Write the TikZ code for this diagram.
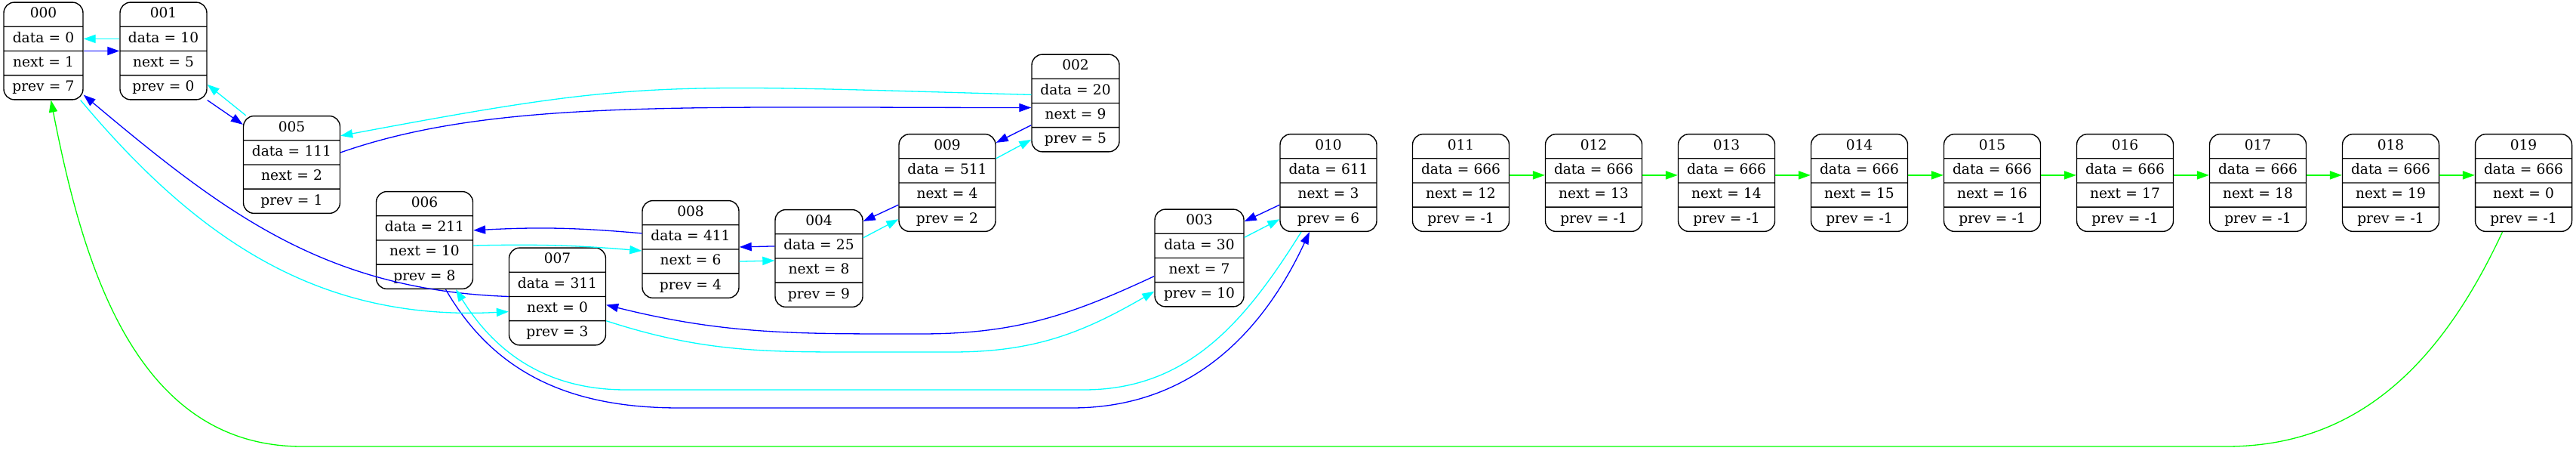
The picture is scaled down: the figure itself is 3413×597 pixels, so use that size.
\documentclass[tikz,border=0pt]{standalone}
\usepackage{fontspec}
\setmainfont{DejaVu Serif}
\usetikzlibrary{arrows.meta, shapes.multipart}
\definecolor{nextblue}{RGB}{0,0,255}
\definecolor{prevcyan}{RGB}{0,255,255}
\definecolor{freegreen}{RGB}{0,255,0}
\tikzset{%
  >={Triangle[width=5.6pt,length=8pt]},
  % Specifications for style of nodes:
            cell/.style = {rectangle split, rectangle split parts=4,
                           draw=black, line width=0.7pt, rounded corners=7pt,
                           text width=64pt, align=center, inner xsep=0pt,
                           inner ysep=1.7pt,
                           font=\fontsize{9.3}{12}\selectfont\strut},
         midcell/.style = {cell, text width=58pt},
  % Specifications for style of links:
            link/.style = {->, line width=0.65pt},
        nextlink/.style = {link, nextblue},
        prevlink/.style = {link, prevcyan},
        freelink/.style = {link, freegreen},
}

\begin{document}
\begin{tikzpicture}[node distance=88pt, x=0.5pt, y=0.5pt]
  \useasboundingbox (0,0) rectangle (3413,-597);
  % Specification of nodes (position, etc.)
  \node (elem0)  [cell, text width=52.5pt] at (57.5,-67.5)
        {000\nodepart{two}data = 0\nodepart{three}next = 1\nodepart{four}prev = 7};
  \node (elem1)  [cell, text width=57.5pt] at (216.5,-67.5)
        {001\nodepart{two}data = 10\nodepart{three}next = 5\nodepart{four}prev = 0};
  \node (elem5)  [cell] at (386.5,-218)
        {005\nodepart{two}data = 111\nodepart{three}next = 2\nodepart{four}prev = 1};
  \node (elem6)  [cell] at (562.5,-318)
        {006\nodepart{two}data = 211\nodepart{three}next = 10\nodepart{four}prev = 8};
  \node (elem7)  [cell] at (738.5,-392.5)
        {007\nodepart{two}data = 311\nodepart{three}next = 0\nodepart{four}prev = 3};
  \node (elem8)  [cell] at (915,-330)
        {008\nodepart{two}data = 411\nodepart{three}next = 6\nodepart{four}prev = 4};
  \node (elem4)  [midcell] at (1085,-342)
        {004\nodepart{two}data = 25\nodepart{three}next = 8\nodepart{four}prev = 9};
  \node (elem9)  [cell] at (1255,-242)
        {009\nodepart{two}data = 511\nodepart{three}next = 4\nodepart{four}prev = 2};
  \node (elem2)  [midcell] at (1425,-136.5)
        {002\nodepart{two}data = 20\nodepart{three}next = 9\nodepart{four}prev = 5};
  \node (elem3)  [midcell, text width=59pt] at (1589,-341.5)
        {003\nodepart{two}data = 30\nodepart{three}next = 7\nodepart{four}prev = 10};
  \node (elem10) [cell] at (1760,-242)
        {010\nodepart{two}data = 611\nodepart{three}next = 3\nodepart{four}prev = 6};
  \node (elem11) [cell] at (1935.5,-242)
        {011\nodepart{two}data = 666\nodepart{three}next = 12\nodepart{four}prev = -1};
  \node (elem12) [cell, right of=elem11]
        {012\nodepart{two}data = 666\nodepart{three}next = 13\nodepart{four}prev = -1};
  \node (elem13) [cell, right of=elem12]
        {013\nodepart{two}data = 666\nodepart{three}next = 14\nodepart{four}prev = -1};
  \node (elem14) [cell, right of=elem13]
        {014\nodepart{two}data = 666\nodepart{three}next = 15\nodepart{four}prev = -1};
  \node (elem15) [cell, right of=elem14]
        {015\nodepart{two}data = 666\nodepart{three}next = 16\nodepart{four}prev = -1};
  \node (elem16) [cell, right of=elem15]
        {016\nodepart{two}data = 666\nodepart{three}next = 17\nodepart{four}prev = -1};
  \node (elem17) [cell, right of=elem16]
        {017\nodepart{two}data = 666\nodepart{three}next = 18\nodepart{four}prev = -1};
  \node (elem18) [cell, right of=elem17]
        {018\nodepart{two}data = 666\nodepart{three}next = 19\nodepart{four}prev = -1};
  \node (elem19) [cell, right of=elem18]
        {019\nodepart{two}data = 666\nodepart{three}next = 0\nodepart{four}prev = -1};

  % Specification of lines between nodes specified above
  % next pointers
\draw[nextlink] (elem0.two split east) -- (elem1.two split west);
\draw[nextlink] (elem1.south east) -- ([yshift=-6pt]elem5.north west);
\draw[nextlink] (elem5.two east) .. controls +(200,70) and +(-466,0) .. ([yshift=-3pt]elem2.two split west);
\draw[nextlink] ([yshift=1.5pt]elem2.three split west) -- ([yshift=-6pt]elem9.north east);
\draw[nextlink] ([yshift=1.5pt]elem9.three split west) -- ([yshift=-8pt]elem4.north east);
\draw[nextlink] (elem4.two west) -- ([yshift=1.5pt]elem8.two split east);
\draw[nextlink] ([yshift=2.5pt]elem8.two west) to[bend right=4] ([yshift=-1.5pt]elem6.two east);
\draw[nextlink] ([xshift=14pt]elem6.south) to[out=-60,in=180] (900,-540) -- (1420,-540)
                to[out=0,in=-115] ([xshift=-12.5pt]elem10.south);
\draw[nextlink] ([yshift=1.5pt]elem10.three split west) -- (elem3.text east);
\draw[nextlink] ([yshift=-4pt]elem3.three west) to[out=-155,in=0] (1220,-442)
                to[out=180,in=-14] ([yshift=2.5pt]elem7.three east);
\draw[nextlink] (elem7.two split west) to[out=178,in=-40] ([yshift=3.5pt]elem0.south east);

  % prev pointers
\draw[prevlink] (elem1.two west) -- (elem0.two east);
\draw[prevlink] ([xshift=2pt]elem5.north west) -- ([yshift=2pt]elem1.four east);
\draw[prevlink] ([yshift=-2.5pt]elem2.two west) .. controls +(-500,14) and +(400,75) .. ([yshift=3pt]elem5.text split east);
\draw[prevlink] (elem9.text split east) -- (elem2.four west);
\draw[prevlink] ([yshift=-2.5pt]elem4.text split east) -- (elem9.four west);
\draw[prevlink] (elem8.three east) -- ([yshift=-1.5pt]elem4.two split west);
\draw[prevlink] ([yshift=-3.5pt]elem6.two split east) to[bend left=3] ([yshift=-1pt]elem8.two split west);
\draw[prevlink] ([xshift=-18pt]elem10.south) to[out=-122,in=0] (1436,-516) -- (829,-516)
                to[out=180,in=-58] ([xshift=20.75pt]elem6.south);
\draw[prevlink] ([yshift=-2.5pt]elem3.text split east) -- (elem10.four west);
\draw[prevlink] (elem7.three split east) to[out=-18,in=180] (1160,-466) -- (1262,-466)
                to[out=0,in=-150] ([yshift=2pt]elem3.four west);
\draw[prevlink] ([xshift=-2pt]elem0.south east) to[out=-50,in=183] ([yshift=-2pt]elem7.three west);

  % free list
\draw[freelink] ([yshift=-3pt]elem11.two east) -- ([yshift=-3pt]elem12.two west);
\draw[freelink] ([yshift=-3pt]elem12.two east) -- ([yshift=-3pt]elem13.two west);
\draw[freelink] ([yshift=-3pt]elem13.two east) -- ([yshift=-3pt]elem14.two west);
\draw[freelink] ([yshift=-3pt]elem14.two east) -- ([yshift=-3pt]elem15.two west);
\draw[freelink] ([yshift=-3pt]elem15.two east) -- ([yshift=-3pt]elem16.two west);
\draw[freelink] ([yshift=-3pt]elem16.two east) -- ([yshift=-3pt]elem17.two west);
\draw[freelink] ([yshift=-3pt]elem17.two east) -- ([yshift=-3pt]elem18.two west);
\draw[freelink] ([yshift=-3pt]elem18.two east) -- ([yshift=-3pt]elem19.two west);
\draw[freelink] ([xshift=-14pt]elem19.south) to[out=-115,in=0] (2950,-591) -- (400,-591)
                to[out=180,in=-79] ([xshift=5pt]elem0.south);
\end{tikzpicture}
\end{document}
